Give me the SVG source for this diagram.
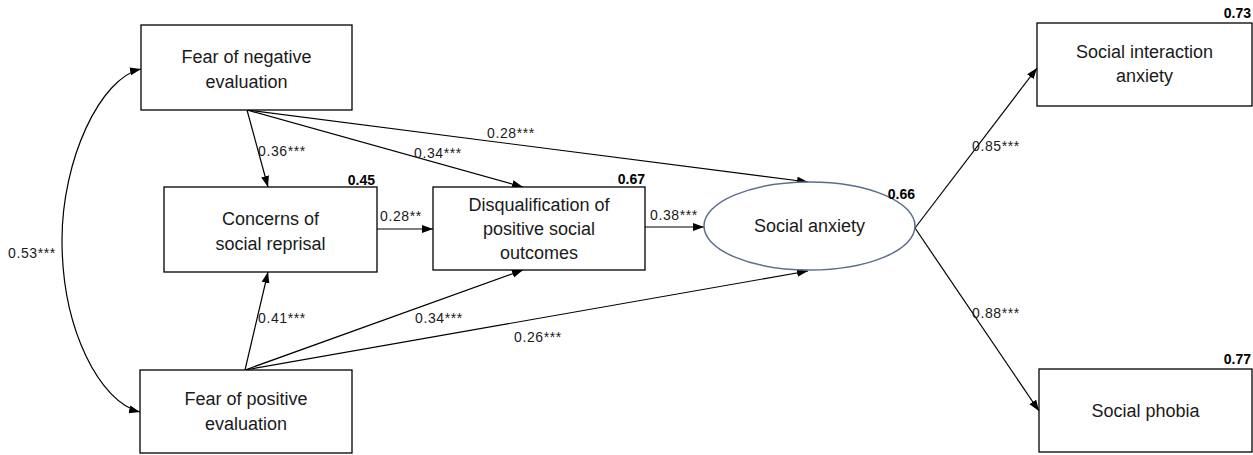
<svg xmlns="http://www.w3.org/2000/svg" width="1253" height="455" viewBox="0 0 1253 455">
<style>
.box{fill:#fff;stroke:#000;stroke-width:1.3}
.t{font-family:"Liberation Sans",Arial,sans-serif;font-size:18px;fill:#1a1a1a;text-anchor:middle}
.l{font-family:"Liberation Sans",Arial,sans-serif;font-size:14px;fill:#1a1a1a;letter-spacing:0.6px}
.b{font-family:"Liberation Sans",Arial,sans-serif;font-size:14px;font-weight:bold;fill:#000;text-anchor:end}
.c{fill:none;stroke:#000;stroke-width:1.2;marker-end:url(#ah)}
</style>
<defs>
<marker id="ah" markerUnits="userSpaceOnUse" markerWidth="12" markerHeight="10" refX="11" refY="4" orient="auto-start-reverse">
<path d="M0,0 L11,4 L0,8 Z" fill="#000"/>
</marker>
</defs>
<rect width="1253" height="455" fill="#fff"/>
<g id="connectors">
<path class="c" style="marker-start:url(#ah)" d="M141,69 C100,78 62,160 62,240 C62,330 100,402 140,412"/>
<path class="c" d="M247,110 L268,187"/>
<path class="c" d="M247,110 L523,187"/>
<path class="c" d="M247,110 L808,182"/>
<path class="c" d="M245,370 L268,272"/>
<path class="c" d="M245,370 L523,270"/>
<path class="c" d="M245,370 L808,271"/>
<path class="c" d="M377,229 L433,229"/>
<path class="c" d="M645,227 L704,227"/>
<path class="c" d="M915,228 L1037,68"/>
<path class="c" d="M915,228 L1039,411"/>
<text class="l" x="8" y="258">0.53***</text>
<text class="l" x="258" y="156">0.36***</text>
<text class="l" x="414" y="158">0.34***</text>
<text class="l" x="487" y="138">0.28***</text>
<text class="l" x="380" y="221">0.28**</text>
<text class="l" x="650" y="220">0.38***</text>
<text class="l" x="972" y="151">0.85***</text>
<text class="l" x="972" y="318">0.88***</text>
<text class="l" x="258" y="323">0.41***</text>
<text class="l" x="415" y="323">0.34***</text>
<text class="l" x="514" y="342">0.26***</text>
</g>
<g id="fne">
<rect class="box" x="141" y="25" width="211" height="85"/>
<text class="t" x="246.5" y="63">Fear of negative</text>
<text class="t" x="246.5" y="88">evaluation</text>
</g>
<g id="fpe">
<rect class="box" x="140" y="370" width="212" height="83"/>
<text class="t" x="246" y="405">Fear of positive</text>
<text class="t" x="246" y="430">evaluation</text>
</g>
<g id="csr">
<rect class="box" x="164" y="187" width="213" height="85"/>
<text class="t" x="270.5" y="225">Concerns of</text>
<text class="t" x="270.5" y="250">social reprisal</text>
<text class="b" x="375" y="185">0.45</text>
</g>
<g id="dpso">
<rect class="box" x="433" y="187" width="212" height="83"/>
<text class="t" x="539" y="211">Disqualification of</text>
<text class="t" x="539" y="235">positive social</text>
<text class="t" x="539" y="259">outcomes</text>
<text class="b" x="645" y="184">0.67</text>
</g>
<g id="sa">
<ellipse cx="809.5" cy="226" rx="105.5" ry="44" fill="#fff" stroke="#5b6f8a" stroke-width="1.5"/>
<text class="t" x="809.5" y="232">Social anxiety</text>
<text class="b" x="915" y="199">0.66</text>
</g>
<g id="sia">
<rect class="box" x="1037" y="23" width="215" height="83"/>
<text class="t" x="1144.5" y="58">Social interaction</text>
<text class="t" x="1144.5" y="82">anxiety</text>
<text class="b" x="1251" y="18">0.73</text>
</g>
<g id="sp">
<rect class="box" x="1039" y="369" width="213" height="83"/>
<text class="t" x="1145.5" y="417">Social phobia</text>
<text class="b" x="1251" y="364">0.77</text>
</g>
</svg>
